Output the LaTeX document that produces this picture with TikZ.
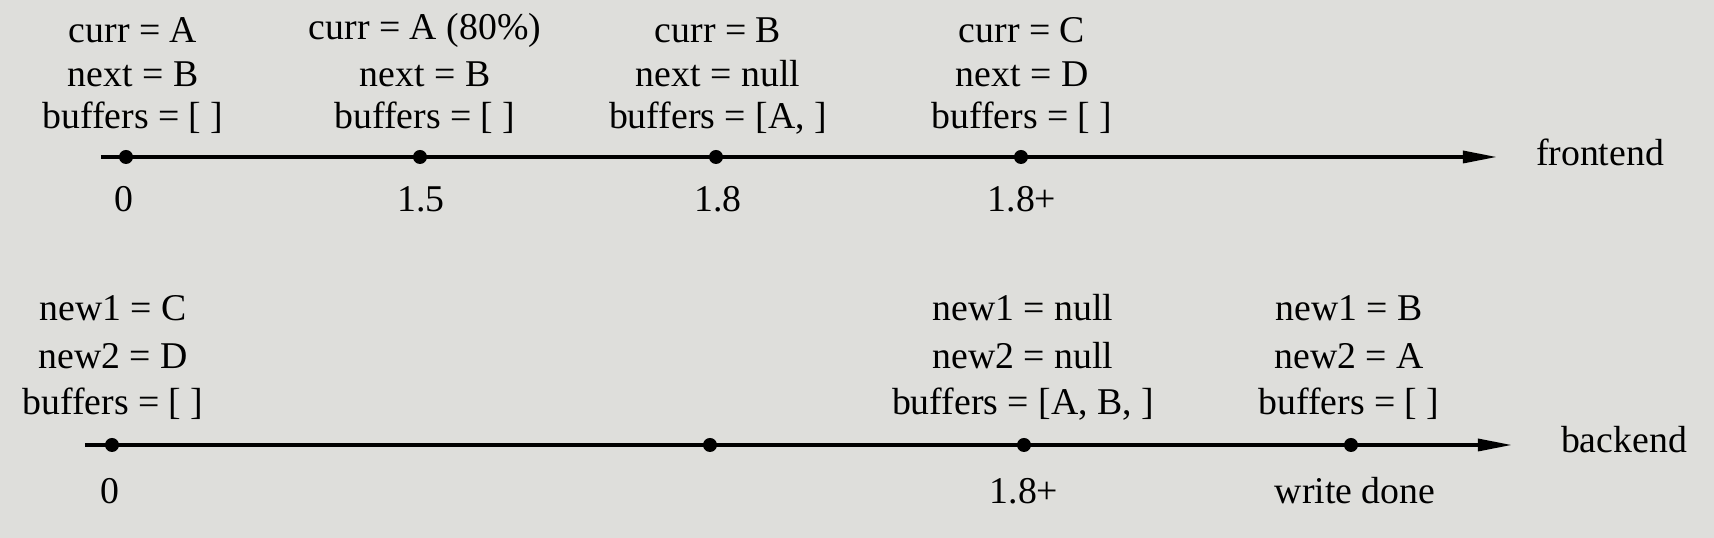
\documentclass[tikz,border=0pt]{standalone}
\usepackage{fontspec}
\setmainfont{Liberation Serif}
\definecolor{paper}{RGB}{222,222,219}
\begin{document}
\begin{tikzpicture}[scale=0.2]
\tikzstyle{every node}+=[inner sep=0pt, font=\fontsize{21.5}{26}\selectfont]
\fill [paper] (0,0) rectangle (171.4,-53.8);
\useasboundingbox (0,0) rectangle (171.4,-53.8);
% frontend axis
\coordinate (fstart) at (10.1,-15.7);
\coordinate (fhead) at (147.5,-15.7);
\coordinate (ftip) at (149.6,-15.7);
\coordinate (fdot1) at (12.6,-15.7);
\coordinate (fdot2) at (42.0,-15.7);
\coordinate (fdot3) at (71.6,-15.7);
\coordinate (fdot4) at (102.1,-15.7);
\draw [black, line width=2pt] (fstart) -- (fhead);
\fill [black] (ftip) -- ++(-3.3,0.65) -- ++(0,-1.3) -- cycle;
\fill [black] (fdot1) circle (0.7);
\fill [black] (fdot2) circle (0.7);
\fill [black] (fdot3) circle (0.7);
\fill [black] (fdot4) circle (0.7);
\draw (160.0,-15.2) node (flabel) {frontend};
\draw (12.4,-19.9) node (ftime1) {0};
\draw (42.1,-19.9) node (ftime2) {1.5};
\draw (71.8,-19.9) node (ftime3) {1.8};
\draw (102.2,-19.9) node (ftime4) {1.8+};
% frontend states
\draw (13.3,-3.0) node (fcurr1) {curr = A};
\draw (13.3,-7.4) node (fnext1) {next = B};
\draw (13.3,-11.8) node (fbuf1) {buffers = [ ]};
\draw (42.5,-3.0) node (fcurr2) {curr = A (80\%)};
\draw (42.5,-7.4) node (fnext2) {next = B};
\draw (42.5,-11.8) node (fbuf2) {buffers = [ ]};
\draw (71.8,-3.0) node (fcurr3) {curr = B};
\draw (71.8,-7.4) node (fnext3) {next = null};
\draw (71.8,-11.8) node (fbuf3) {buffers = [A, ]};
\draw (102.2,-3.0) node (fcurr4) {curr = C};
\draw (102.2,-7.4) node (fnext4) {next = D};
\draw (102.2,-11.8) node (fbuf4) {buffers = [ ]};
% backend axis
\coordinate (bstart) at (8.5,-44.5);
\coordinate (bhead) at (149.0,-44.5);
\coordinate (btip) at (151.1,-44.5);
\coordinate (bdot1) at (11.2,-44.5);
\coordinate (bdot2) at (71.0,-44.5);
\coordinate (bdot3) at (102.4,-44.5);
\coordinate (bdot4) at (135.1,-44.5);
\draw [black, line width=2pt] (bstart) -- (bhead);
\fill [black] (btip) -- ++(-3.3,0.65) -- ++(0,-1.3) -- cycle;
\fill [black] (bdot1) circle (0.7);
\fill [black] (bdot2) circle (0.7);
\fill [black] (bdot3) circle (0.7);
\fill [black] (bdot4) circle (0.7);
\draw (162.4,-44.0) node (blabel) {backend};
\draw (11.0,-49.1) node (btime1) {0};
\draw (102.4,-49.1) node (btime3) {1.8+};
\draw (135.5,-49.1) node (btime4) {write done};
% backend states
\draw (11.3,-30.8) node (bnew1a) {new1 = C};
\draw (11.3,-35.6) node (bnew2a) {new2 = D};
\draw (11.3,-40.4) node (bbufa) {buffers = [ ]};
\draw (102.3,-30.8) node (bnew1b) {new1 = null};
\draw (102.3,-35.6) node (bnew2b) {new2 = null};
\draw (102.3,-40.4) node (bbufb) {buffers = [A, B, ]};
\draw (134.9,-30.8) node (bnew1c) {new1 = B};
\draw (134.9,-35.6) node (bnew2c) {new2 = A};
\draw (134.9,-40.4) node (bbufc) {buffers = [ ]};
\end{tikzpicture}
\end{document}
